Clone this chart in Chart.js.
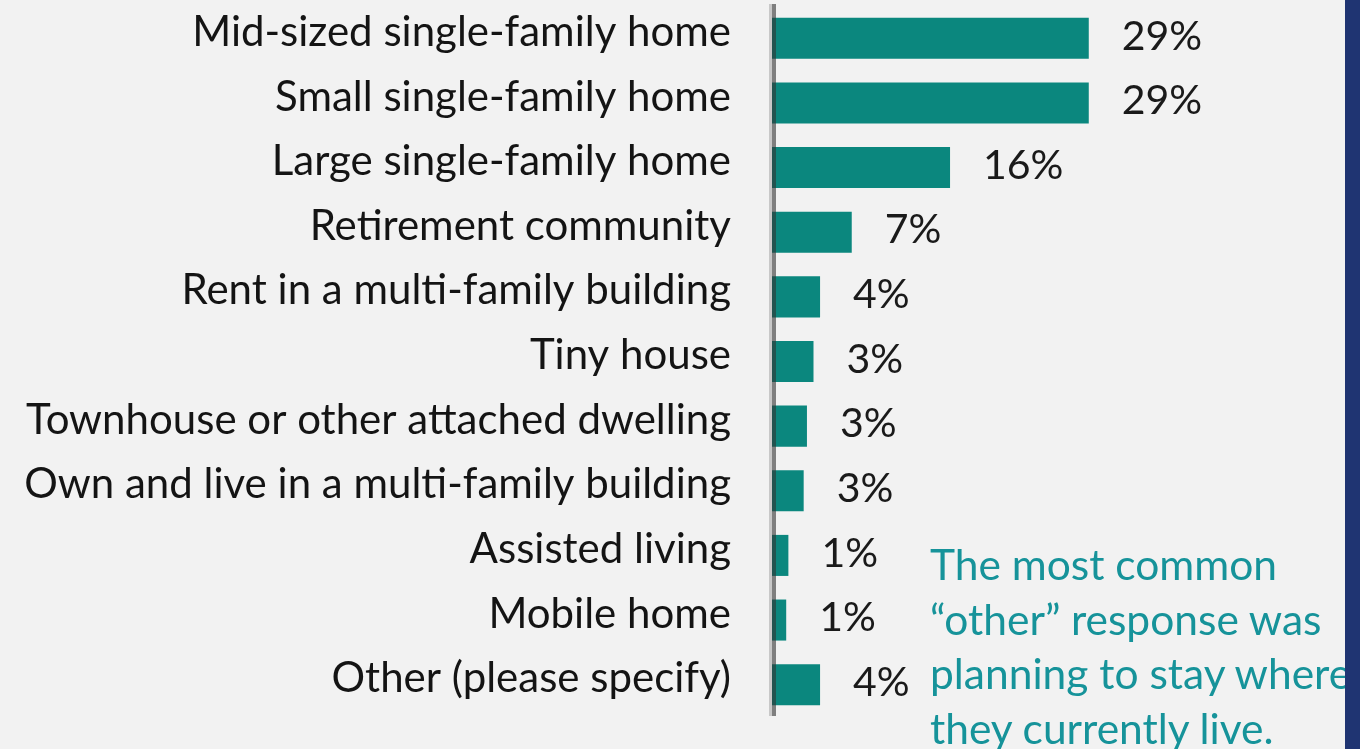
<!DOCTYPE html>
<html>
<head>
<meta charset="utf-8">
<script src="https://cdn.jsdelivr.net/npm/chart.js@4/dist/chart.umd.min.js"></script>
<style>
  html, body { margin: 0; padding: 0; background: #f2f2f2; }
  #wrap { position: relative; width: 1360px; height: 749px; overflow: hidden; background: #f2f2f2; }
  #c { position: absolute; left: 0; top: 0; }
  #note { position: absolute; left: 930px; top: 537px; width: 500px; font-family: Lato, "Open Sans", sans-serif;
          font-size: 42.5px; line-height: 54.5px; color: #16939a; white-space: nowrap; z-index: 2; }
  #strip { position: absolute; left: 1345px; top: 0; width: 15px; height: 749px; background: #1f3472; z-index: 3; }
</style>
</head>
<body>
<div id="wrap">
  <canvas id="c" width="1360" height="749"></canvas>
  <div id="note">The most common<br>“other” response was<br>planning to stay where<br>they currently live.</div>
  <div id="strip"></div>
</div>
<script>
const categories = [
  "Mid-sized single-family home",
  "Small single-family home",
  "Large single-family home",
  "Retirement community",
  "Rent in a multi-family building",
  "Tiny house",
  "Townhouse or other attached dwelling",
  "Own and live in a multi-family building",
  "Assisted living",
  "Mobile home",
  "Other (please specify)"
];
const values = [29.0, 29.0, 16.3, 7.3, 4.4, 3.8, 3.2, 2.9, 1.5, 1.3, 4.4];
const valueLabels = ["29%", "29%", "16%", "7%", "4%", "3%", "3%", "3%", "1%", "1%", "4%"];

const FONT = "Lato, 'Open Sans', sans-serif";

const valueLabelPlugin = {
  id: 'valueLabels',
  afterDatasetsDraw(chart) {
    const ctx = chart.ctx;
    const meta = chart.getDatasetMeta(0);
    ctx.save();
    ctx.font = "41px " + FONT;
    ctx.fillStyle = "#1a1a1a";
    ctx.textAlign = "left";
    ctx.textBaseline = "middle";
    meta.data.forEach((bar, i) => {
      ctx.fillText(valueLabels[i], bar.x + 33, bar.y - 2);
    });
    ctx.restore();
  }
};

const axisLinePlugin = {
  id: 'axisLine',
  afterDatasetsDraw(chart) {
    const ctx = chart.ctx;
    const a = chart.chartArea;
    ctx.save();
    ctx.fillStyle = "#c8c8c8";
    ctx.fillRect(a.left - 3, a.top - 2, 3, a.bottom - a.top + 1);
    ctx.fillStyle = "rgba(50,50,50,0.6)";
    ctx.fillRect(a.left, a.top - 2, 4, a.bottom - a.top + 1);
    ctx.restore();
  }
};

new Chart(document.getElementById('c'), {
  type: 'bar',
  data: {
    labels: categories,
    datasets: [{
      data: values,
      backgroundColor: "#0b877e",
      borderWidth: 0,
      barPercentage: 0.635,
      categoryPercentage: 1.0
    }]
  },
  options: {
    indexAxis: 'y',
    responsive: false,
    animation: false,
    layout: { padding: { top: 6, bottom: 32, right: 20, left: 0 } },
    plugins: { legend: { display: false }, tooltip: { enabled: false } },
    scales: {
      x: { display: false, min: 0, max: 52 },
      y: {
        grid: { display: false },
        border: { display: false },
        ticks: { font: { family: FONT, size: 42 }, color: "#141414", padding: 33, labelOffset: -6 },
        afterFit(scale) { scale.width = 772; scale.paddingTop = 0; scale.paddingBottom = 0; }
      }
    }
  },
  plugins: [valueLabelPlugin, axisLinePlugin]
});
</script>
</body>
</html>
